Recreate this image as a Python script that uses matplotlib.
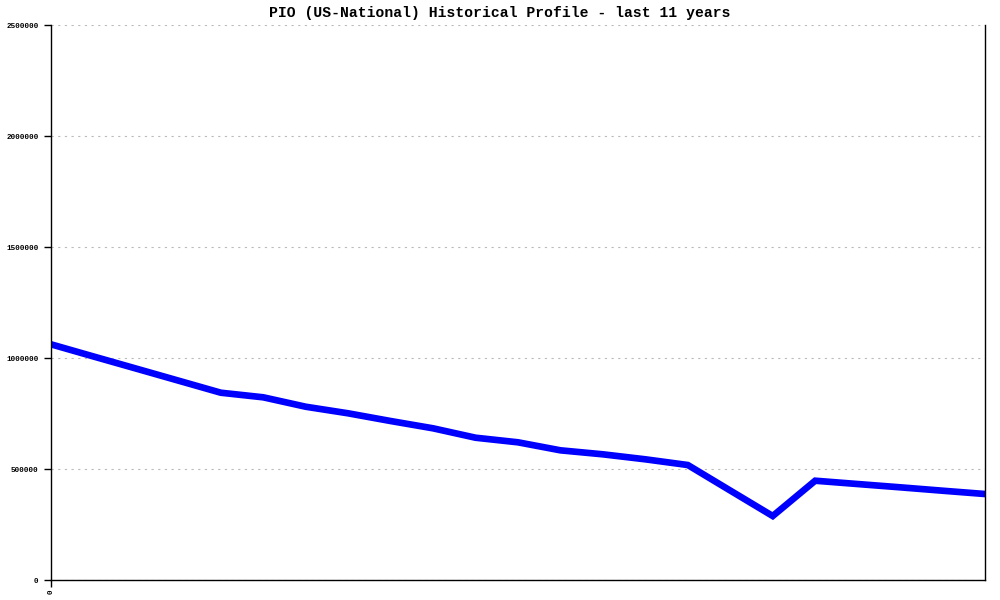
import numpy as np
import matplotlib
matplotlib.use("Agg")
import matplotlib.pyplot as plt

# PIO historical profile, semi-annual points over 11 years
title = "PIO (US-National) Historical Profile - last 11 years"
periods = list(range(23))
values = [1061700, 1007000, 952700, 898200, 843700, 823000, 780600, 750900,
          716200, 683300, 641000, 620300, 584200, 566200, 543700, 518000,
          403000, 288300, 447300, 432400, 417600, 402300, 387400]
y_ticks = [0, 500000, 1000000, 1500000, 2000000, 2500000]
x_ticks = [0]
x_labels = ["0"]

fig = plt.figure(figsize=(10, 6), dpi=100)
ax = fig.add_axes([0.051, 0.0333, 0.934, 0.925])

ax.plot(periods, values, color="#0000ff", linewidth=4.8, solid_joinstyle="miter")

ax.set_xlim(0, 22)
ax.set_ylim(0, 2500000)
ax.set_yticks(y_ticks)
ax.set_yticklabels([str(t) for t in y_ticks], family="Liberation Mono",
                   fontsize=5.5, fontweight="bold")
ax.set_xticks(x_ticks)
ax.set_xticklabels(x_labels, rotation=90, family="Liberation Mono",
                   fontsize=5.5, fontweight="bold")
ax.tick_params(axis="y", direction="out", length=5, width=1, color="black", pad=4)
ax.tick_params(axis="x", direction="out", length=5, width=1, color="black", pad=2)

ax.grid(axis="y", linestyle=(0, (2, 4)), color="#bbbbbb", linewidth=0.8)
ax.set_axisbelow(True)
ax.spines["top"].set_visible(False)
for s in ["left", "right", "bottom"]:
    ax.spines[s].set_color("black")
    ax.spines[s].set_linewidth(1)

fig.text(0.5, 0.978, title, ha="center", va="center",
         family="Liberation Mono", fontweight="bold", fontsize=10.6)

fig.savefig("out.png", dpi=100)
